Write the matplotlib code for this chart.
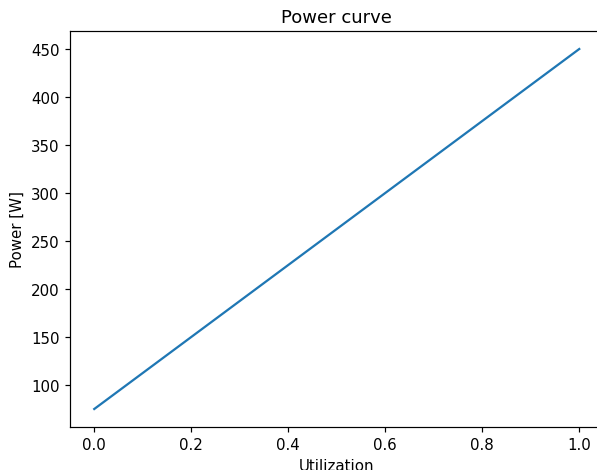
import matplotlib
matplotlib.use("Agg")
import matplotlib.pyplot as plt

utilization = [0.0, 1.0]
power = [75, 450]

W, H, DPI = 597, 471, 108
fig = plt.figure(figsize=(W / DPI, H / DPI), dpi=DPI)
# axes box in pixels: left 70, right ~603 (cut off), top 32, bottom 428
ax = fig.add_axes([70 / W, 1 - 428 / H, (603.5 - 70) / W, (428 - 32) / H])
ax.plot(utilization, power)
ax.set_title("Power curve")
ax.set_xlabel("Utilization")
ax.set_ylabel("Power [W]")
fig.savefig("out.png", dpi=DPI)
